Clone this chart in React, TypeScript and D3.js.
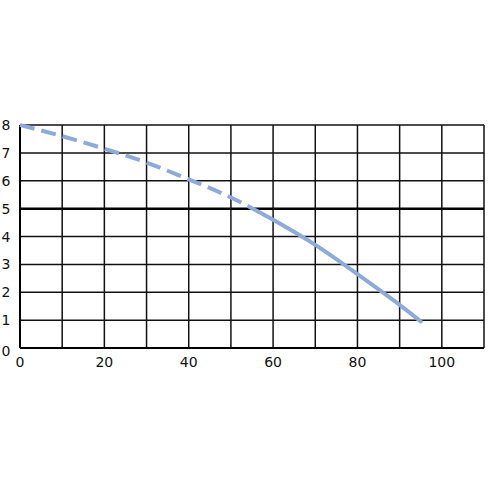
import React from "react";
import * as d3 from "d3";

const xTicks = [0, 20, 40, 60, 80, 100];
const yTicks = [0, 1, 2, 3, 4, 5, 6, 7, 8];
const xGrid = [0, 10, 20, 30, 40, 50, 60, 70, 80, 90, 100, 110];
const curveX = [0, 10, 20, 30, 40, 50, 60, 70, 80, 90, 95];
const curveY = [8, 7.6, 7.15, 6.65, 6.05, 5.4, 4.6, 3.7, 2.65, 1.55, 0.95];
const dashEndX = 55;
const refLine = 5;

export default function App() {
  const W = 488, H = 488;
  const x = d3.scaleLinear().domain([0, 110]).range([20, 484]);
  const y = d3.scaleLinear().domain([0, 8]).range([348, 125]);
  const line = d3
    .line<[number, number]>()
    .x((d) => x(d[0]))
    .y((d) => y(d[1]))
    .curve(d3.curveNatural);
  const pts = curveX.map((v, i) => [v, curveY[i]] as [number, number]);
  const d = line(pts) || "";
  const font = "'DejaVu Sans', sans-serif";
  return (
    <svg width={W} height={H} style={{ position: "absolute", left: 0, top: 0, background: "#fff" }}>
      <defs>
        <clipPath id="clipDash">
          <rect x={0} y={0} width={x(dashEndX)} height={H} />
        </clipPath>
        <clipPath id="clipSolid">
          <rect x={x(dashEndX)} y={0} width={W} height={H} />
        </clipPath>
      </defs>
      <rect width={W} height={H} fill="#fff" />
      {yTicks.map((t) => (
        <line key={"h" + t} x1={x(0)} x2={x(110)} y1={y(t)} y2={y(t)} stroke="#111" strokeWidth={1.5} />
      ))}
      {xGrid.map((t) => (
        <line key={"v" + t} x1={x(t)} x2={x(t)} y1={y(0)} y2={y(8)} stroke="#111" strokeWidth={1.5} />
      ))}
      <line x1={x(0)} x2={x(110)} y1={y(refLine)} y2={y(refLine)} stroke="#000" strokeWidth={2.5} />
      <line x1={x(0)} x2={x(110)} y1={y(0)} y2={y(0)} stroke="#000" strokeWidth={2} />
      <line x1={x(0)} x2={x(0)} y1={y(0)} y2={y(8)} stroke="#000" strokeWidth={2} />
      <path d={d} fill="none" stroke="#8eaadb" strokeWidth={4} strokeDasharray="15 7" clipPath="url(#clipDash)" />
      <path d={d} fill="none" stroke="#8eaadb" strokeWidth={4} strokeLinecap="round" clipPath="url(#clipSolid)" />
      {yTicks.map((t) => (
        <text key={"yl" + t} x={6} y={y(t) + (t === 0 ? 3 : 0)} dy="0.36em" textAnchor="middle" fontFamily={font} fontSize={14} fill="#111">
          {t}
        </text>
      ))}
      {xTicks.map((t) => (
        <text key={"xl" + t} x={x(t)} y={362} dy="0.36em" textAnchor="middle" fontFamily={font} fontSize={14} fill="#111">
          {t}
        </text>
      ))}
    </svg>
  );
}
